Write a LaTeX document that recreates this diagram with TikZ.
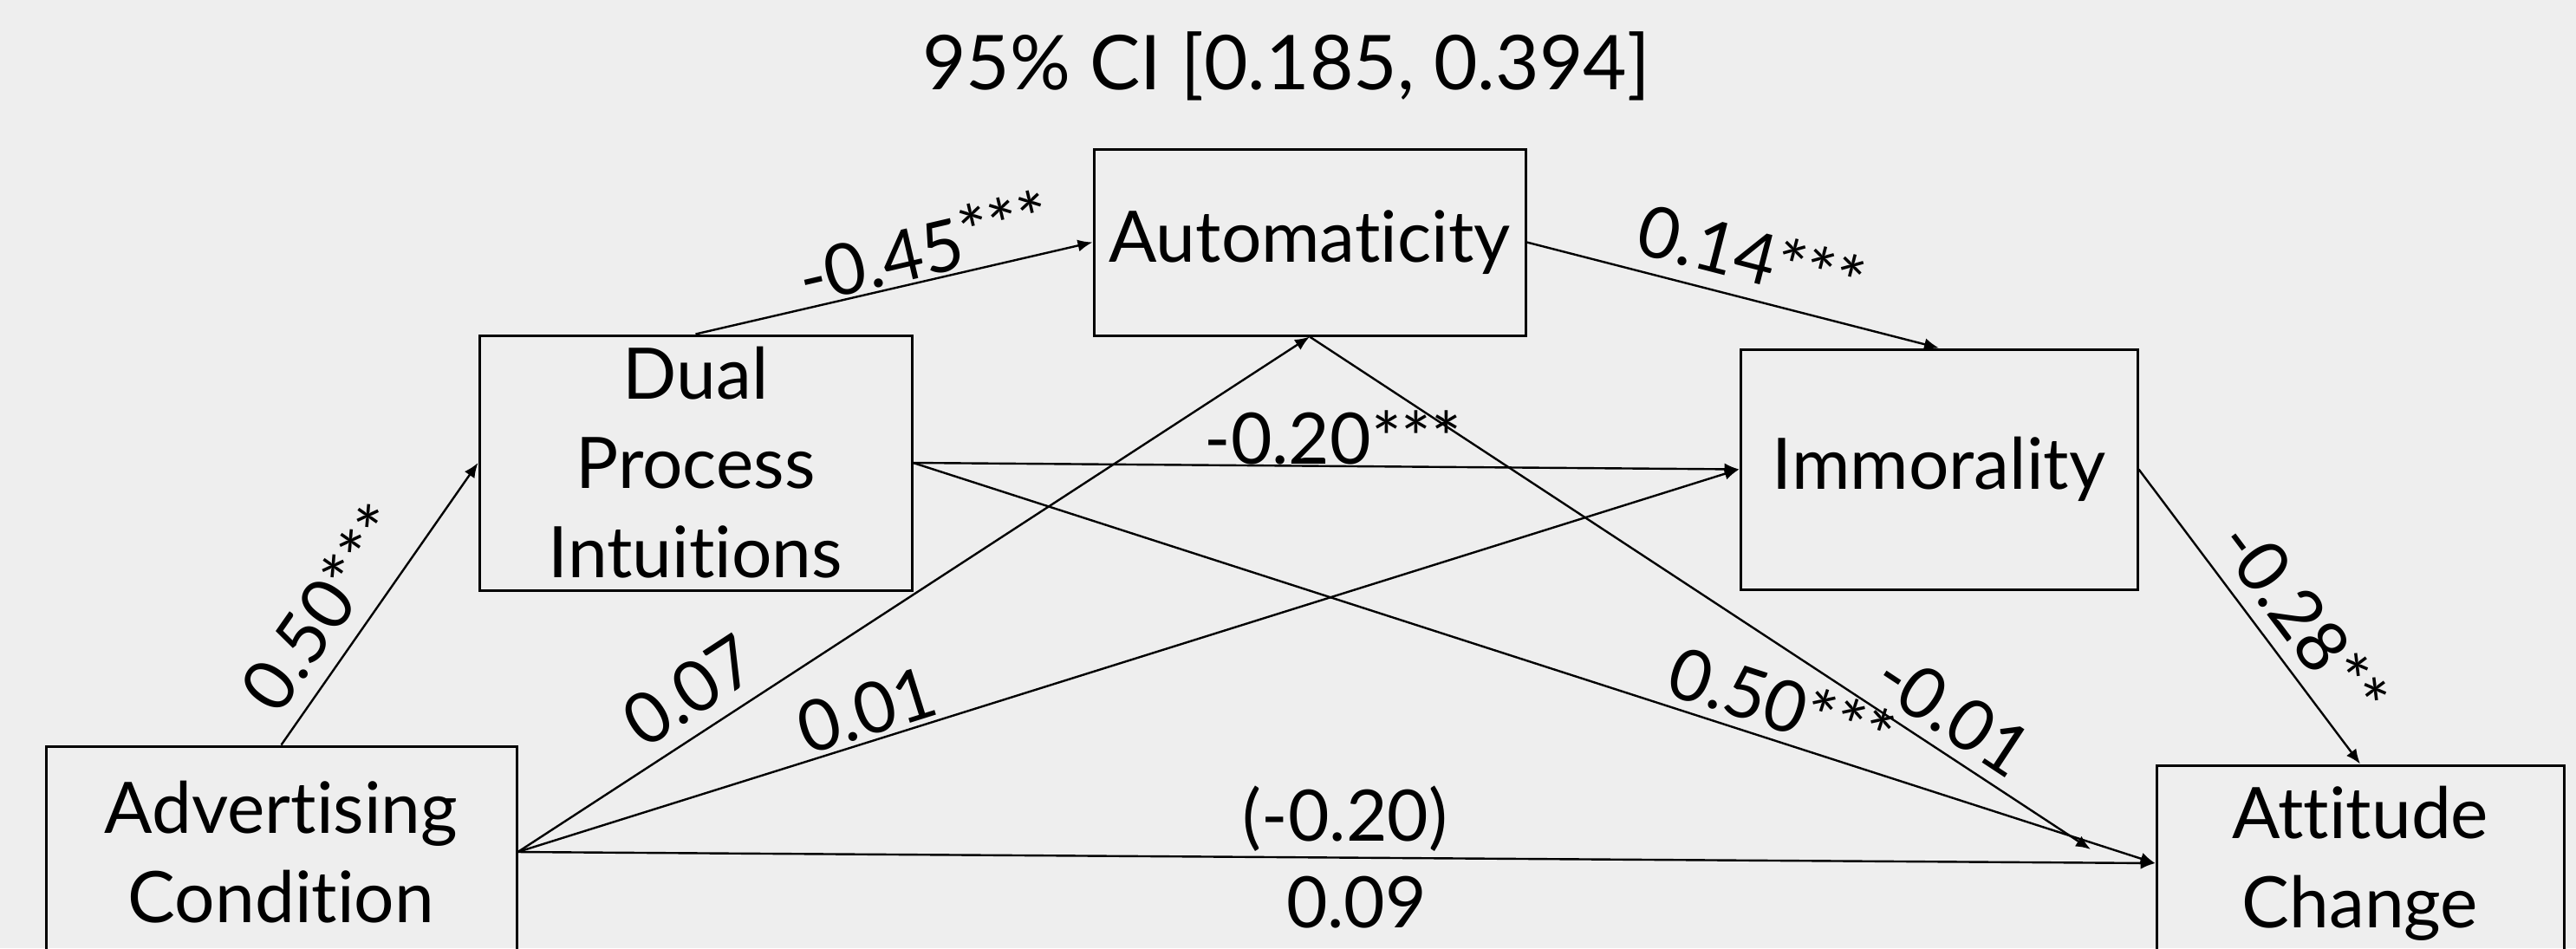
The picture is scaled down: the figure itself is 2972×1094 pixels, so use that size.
\documentclass[tikz,border=0pt]{standalone}
\usepackage{fontspec}
\setmainfont{Lato}[Ligatures={NoCommon,NoContextual}]
\usetikzlibrary{arrows.meta}
\definecolor{bgc}{HTML}{EEEEEE}
\newcommand\diafont{\fontsize{20.5}{25.75}\selectfont}
\newcommand\titlefont{\fontsize{21.8}{26}\selectfont}
\begin{document}
\begin{tikzpicture}[x=0.25pt,y=-0.25pt,
  box/.style={draw, line width=0.75pt, rectangle, inner sep=0pt, align=center, font=\diafont},
  conn/.style={-{Latex[length=4.25pt,width=3.5pt]}, line width=0.6pt},
  lab/.style={inner sep=0pt, font=\diafont}]
\useasboundingbox (0,0) rectangle (2972,1094);
\clip (0,0) rectangle (2972,1094);
\fill[bgc] (0,0) rectangle (2972,1094);

% boxes
\node[box, minimum width=135.75pt, minimum height=61pt] (adv) at (324.5,983) {Advertising\\Condition};
\node[box, minimum width=124.75pt, minimum height=73.5pt] (dual) at (802.5,534) {Dual\\Process\\Intuitions};
\node[box, minimum width=124.5pt, minimum height=53.75pt] (auto) at (1511,279.5) {Automaticity};
\node[box, minimum width=114.5pt, minimum height=69.25pt] (imm) at (2237,541.5) {Immorality};
\node[box, minimum width=117.5pt, minimum height=56.5pt] (att) at (2723,996) {Attitude\\Change};
\coordinate (autoend) at (2412,980);

% connectors
\draw[conn] (adv.north) -- (dual.west);
\draw[conn] (dual.north) -- (auto.west);
\draw[conn] (auto.east) -- (imm.north);
\draw[conn] (dual.east) -- (imm.west);
\draw[conn] (dual.east) -- (att.west);
\draw[conn] (adv.east) -- (auto.south);
\draw[conn] (adv.east) -- (imm.west);
\draw[conn] (adv.east) -- (att.west);
\draw[conn] (auto.south) -- (autoend);
\draw[conn] (imm.east) -- (att.north);

% labels
\node[lab, font=\titlefont] (title) at (1484,76) {95\% CI [0.185, 0.394]};
\node[lab, rotate=55] (l1) at (373,701) {0.50***};
\node[lab, rotate=13.1] (l2) at (1066,284) {-0.45\raisebox{2pt}{***}};
\node[lab, rotate=-14.5] (l3) at (2021,295) {0.14***};
\node[lab] (l4) at (1538,505) {-0.20***};
\node[lab, rotate=33.1] (l5) at (795,797) {0.07};
\node[lab, rotate=17.4] (l6) at (1000,819) {0.01};
\node[lab, rotate=-17.9] (l7) at (2056,812) {0.50***};
\node[lab, rotate=-33.4] (l8) at (2254,823) {-0.01};
\node[lab, rotate=-53.1] (l9) at (2658,715) {-0.28**};
\node[lab] (l10) at (1552,945) {(-0.20)};
\node[lab] (l11) at (1565,1041) {0.09};
\end{tikzpicture}
\end{document}
